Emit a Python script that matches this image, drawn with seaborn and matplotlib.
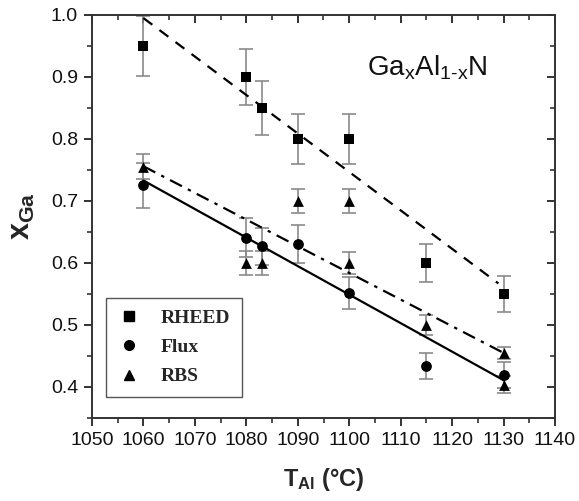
import matplotlib
matplotlib.use("Agg")
import matplotlib.pyplot as plt
from matplotlib.lines import Line2D
from matplotlib.ticker import MultipleLocator, FormatStrFormatter
import seaborn as sns
import pandas as pd

# ---- data ----
rheed_t = [1060, 1080, 1083, 1090, 1100, 1115, 1130]
rheed_x = [0.95, 0.90, 0.85, 0.80, 0.80, 0.60, 0.55]
rheed_err = [0.048, 0.045, 0.043, 0.04, 0.04, 0.03, 0.029]

flux_t = [1060, 1080, 1083, 1090, 1100, 1115, 1130]
flux_x = [0.725, 0.641, 0.627, 0.631, 0.552, 0.434, 0.419]
flux_err = [0.037, 0.032, 0.030, 0.031, 0.026, 0.021, 0.021]

rbs_t = [1060, 1080, 1083, 1090, 1100, 1100, 1115, 1130, 1130]
rbs_x = [0.755, 0.60, 0.60, 0.70, 0.70, 0.60, 0.50, 0.455, 0.404]
rbs_err = [0.02, 0.019, 0.019, 0.02, 0.02, 0.018, 0.016, 0.01, 0.013]

# linear fits (end points)
rheed_fit_t = [1060, 1129]
rheed_fit_x = [0.995, 0.567]
flux_fit_t = [1060, 1130]
flux_fit_x = [0.733, 0.411]
rbs_fit_t = [1060, 1130]
rbs_fit_x = [0.756, 0.455]

series_names = ["RHEED", "Flux", "RBS"]

sns.set_theme(style="white")
plt.rcParams["font.family"] = ["Liberation Sans", "DejaVu Sans"]
plt.rcParams["mathtext.fontset"] = "custom"
plt.rcParams["mathtext.rm"] = "Liberation Sans"
plt.rcParams["mathtext.bf"] = "Liberation Sans:bold"

fig = plt.figure(figsize=(5.79, 5.01), dpi=100)
ax = fig.add_axes([92 / 579, 1 - 418 / 501, 463 / 579, 403 / 501])

df_r = pd.DataFrame({"T": rheed_t, "x": rheed_x})
df_f = pd.DataFrame({"T": flux_t, "x": flux_x})
df_b = pd.DataFrame({"T": rbs_t, "x": rbs_x})

# error bars
for t, v, e in [(rheed_t, rheed_x, rheed_err), (flux_t, flux_x, flux_err), (rbs_t, rbs_x, rbs_err)]:
    ax.errorbar(t, v, yerr=e, fmt="none", ecolor="#8a8a8a", elinewidth=1.2,
                capsize=5, capthick=1.2, zorder=2)

# fit lines
sns.lineplot(x=rheed_fit_t, y=rheed_fit_x, ax=ax, color="black", lw=1.6,
             linestyle=(0, (5, 4)), zorder=3)
sns.lineplot(x=flux_fit_t, y=flux_fit_x, ax=ax, color="black", lw=1.6,
             linestyle="-", zorder=3)
sns.lineplot(x=rbs_fit_t, y=rbs_fit_x, ax=ax, color="black", lw=1.6,
             linestyle=(0, (6, 3, 1.5, 3)), zorder=3)

# markers
sns.scatterplot(data=df_r, x="T", y="x", ax=ax, marker="s", color="black", s=55,
                edgecolor="black", linewidth=0, zorder=4)
sns.scatterplot(data=df_f, x="T", y="x", ax=ax, marker="o", color="black", s=60,
                edgecolor="black", linewidth=0, zorder=4)
sns.scatterplot(data=df_b, x="T", y="x", ax=ax, marker="^", color="black", s=60,
                edgecolor="black", linewidth=0, zorder=4)

ax.set_xlim(1050, 1140)
ax.set_ylim(0.35, 1.0)
ax.xaxis.set_major_locator(MultipleLocator(10))
ax.xaxis.set_minor_locator(MultipleLocator(5))
ax.yaxis.set_major_locator(MultipleLocator(0.1))
ax.yaxis.set_minor_locator(MultipleLocator(0.05))
ax.yaxis.set_major_formatter(FormatStrFormatter("%.1f"))

for s in ax.spines.values():
    s.set_color("#333333")
    s.set_linewidth(1.4)

ax.tick_params(axis="both", which="major", direction="out", length=6, width=1.3,
               labelsize=14, colors="#222222", labelcolor="#111111", pad=4,
               bottom=True, left=True, top=False, right=False)
ax.tick_params(axis="both", which="minor", direction="out", length=3.5, width=1.1,
               colors="#222222", bottom=True, left=True, top=False, right=False)
# mirrored inward ticks on top/right
axt = ax.secondary_xaxis("top")
axt.xaxis.set_major_locator(MultipleLocator(10))
axt.xaxis.set_minor_locator(MultipleLocator(5))
axt.tick_params(which="major", direction="in", length=6, width=1.3, top=True,
                labeltop=False, colors="#222222")
axt.tick_params(which="minor", direction="in", length=3.5, width=1.1, top=True,
                colors="#222222")
axt.spines["top"].set_visible(False)
axr = ax.secondary_yaxis("right")
axr.yaxis.set_major_locator(MultipleLocator(0.1))
axr.yaxis.set_minor_locator(MultipleLocator(0.05))
axr.tick_params(which="major", direction="in", length=6, width=1.3, right=True,
                labelright=False, colors="#222222")
axr.tick_params(which="minor", direction="in", length=3.5, width=1.1, right=True,
                colors="#222222")
axr.spines["right"].set_visible(False)

ax.set_xlabel(r"$\mathbf{T_{Al}}$ (°C)", fontsize=17, fontweight="bold", labelpad=12)
ax.set_ylabel(r"$\mathbf{x_{Ga}}$", fontsize=22, labelpad=10)

ax.text(0.594, 0.851, r"Ga$_\mathregular{x}$Al$_\mathregular{1\text{-}x}$N",
        transform=ax.transAxes, fontsize=20, color="#111111")

handles = [Line2D([], [], marker=m, color="black", linestyle="none", markersize=7)
           for m in ["s", "o", "^"]]
leg = ax.legend(handles, series_names, loc="lower left", bbox_to_anchor=(0.03, 0.052),
                borderaxespad=0, frameon=True, fancybox=False, framealpha=1,
                edgecolor="#555555",
                prop={"family": "Liberation Serif", "weight": "bold", "size": 14},
                handletextpad=1.0, borderpad=0.6, labelspacing=0.6, handlelength=1.2)
leg.get_frame().set_linewidth(1.0)

fig.savefig("out.png", dpi=100)
